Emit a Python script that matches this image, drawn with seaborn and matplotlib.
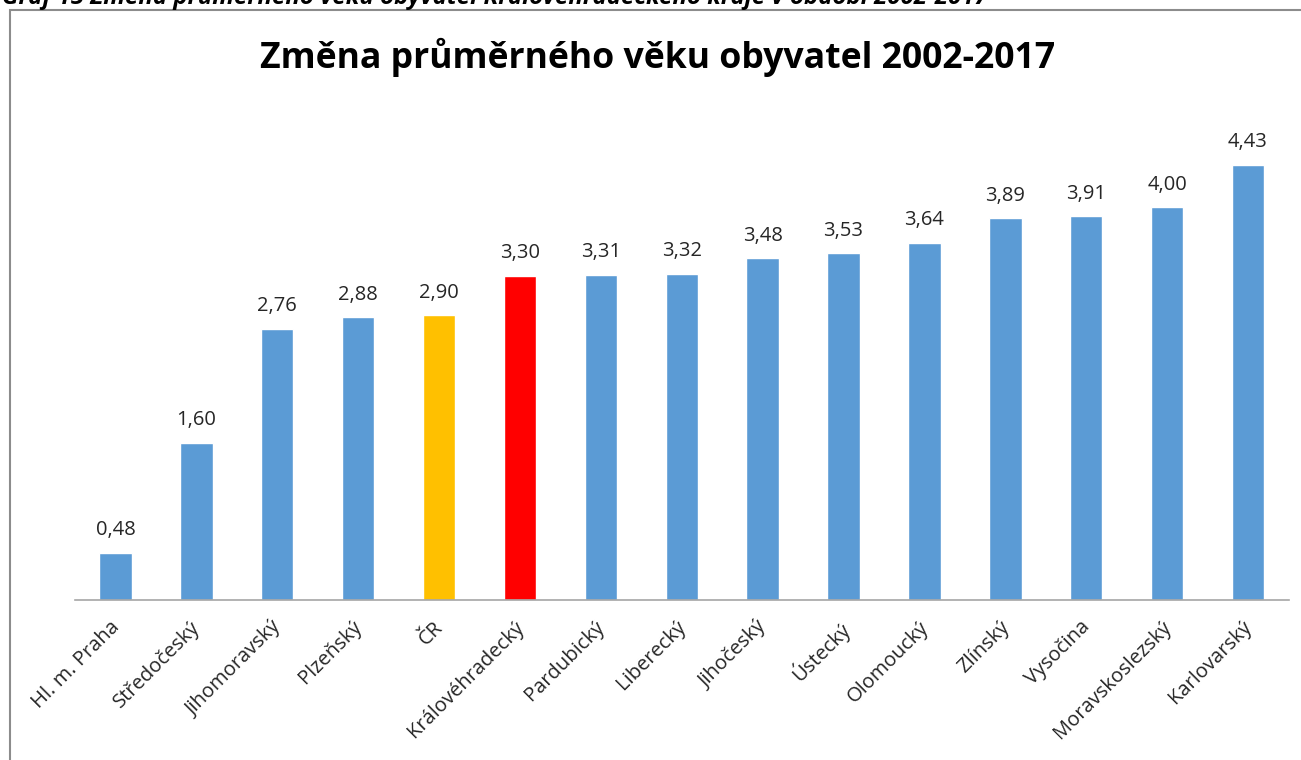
import matplotlib
matplotlib.use("Agg")
import matplotlib.pyplot as plt
import matplotlib.transforms as mtransforms
import seaborn as sns
import pandas as pd
from matplotlib.patches import Rectangle

regions = ["Hl. m. Praha", "Středočeský", "Jihomoravský", "Plzeňský", "ČR",
           "Královéhradecký", "Pardubický", "Liberecký", "Jihočeský", "Ústecký",
           "Olomoucký", "Zlínský", "Vysočina", "Moravskoslezský", "Karlovarský"]
values = [0.48, 1.60, 2.76, 2.88, 2.90, 3.30, 3.31, 3.32, 3.48, 3.53,
          3.64, 3.89, 3.91, 4.00, 4.43]
colors = ["#5B9BD5"] * 4 + ["#FFC000", "#FF0000"] + ["#5B9BD5"] * 9

title = "Změna průměrného věku obyvatel 2002-2017"
caption = "Graf 15 Změna průměrného věku obyvatel Královéhradeckého kraje v období 2002-2017"

sns.set_theme(style="white")
plt.rcParams['font.family'] = ['Open Sans', 'DejaVu Sans']

df = pd.DataFrame({"region": regions, "value": values})

fig = plt.figure(figsize=(13.01, 7.6), dpi=100)
fig.patch.set_facecolor("white")
# chart frame
fig.patches.append(Rectangle((10/1301, -0.1), 1.2, (760-10)/760 + 0.1,
                             transform=fig.transFigure, fill=False,
                             edgecolor="#8C8C8C", linewidth=1.5))
# caption above the chart (cut off at the top edge, as in the reference)
fig.text(2/1301, 1 - 4/760, caption, ha="left", va="baseline",
         fontsize=17.3, fontweight="bold", fontstyle="italic", color="black")

ax = fig.add_axes([75/1301, 1 - 600/760, (1288.5-75)/1301, (600-109)/760])
sns.barplot(data=df, x="region", y="value", hue="region", palette=colors,
            legend=False, width=0.4, ax=ax, saturation=1)
ax.set_xlim(-0.5, len(regions) - 0.5)
ax.set_ylim(0, 5)
ax.set_xlabel("")
ax.set_ylabel("")
ax.set_yticks([])
for s in ["top", "right", "left"]:
    ax.spines[s].set_visible(False)
ax.spines["bottom"].set_color("#A6A6A6")
ax.spines["bottom"].set_linewidth(1.2)
ax.tick_params(axis="x", length=0, pad=11)
shift = mtransforms.ScaledTranslation(-6/100, -2/100, fig.dpi_scale_trans)
for lbl in ax.get_xticklabels():
    lbl.set_rotation(45)
    lbl.set_ha("right")
    lbl.set_rotation_mode("anchor")
    lbl.set_fontsize(14.5)
    lbl.set_color("#262626")
    lbl.set_transform(lbl.get_transform() + shift)

for i, v in enumerate(values):
    ax.annotate(f"{v:.2f}".replace(".", ","), (i, v), xytext=(0, 9),
                textcoords="offset points", ha="center", va="bottom",
                fontsize=14.5, color="#262626")

fig.text(658/1301, 1 - 57/760, title, ha="center", va="center",
         fontsize=25.7, fontweight="bold", color="black")

fig.savefig("out.png", dpi=100)
